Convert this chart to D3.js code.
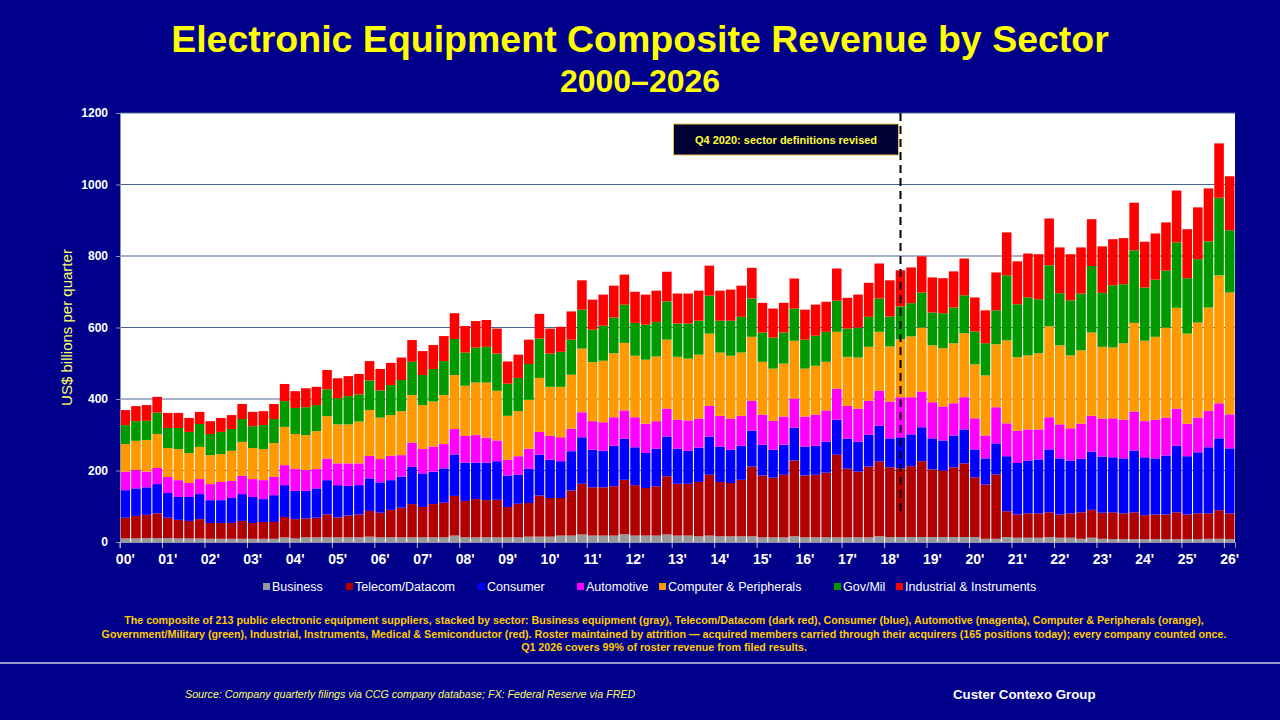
<!DOCTYPE html>
<html>
<head>
<meta charset="utf-8">
<script src="https://cdn.jsdelivr.net/npm/d3@7"></script>
<style>
	body { margin: 0; background: #00008a; }
	svg { display: block; font-family: Arial, "Liberation Sans", sans-serif; }
</style>
</head>
<body>
<svg id="chart" width="1280" height="720"></svg>
<script>
(function() {
	"use strict";

	// year tick labels, one per year (2026 has only Q1)
	var years = [2000, 2001, 2002, 2003, 2004, 2005, 2006, 2007, 2008, 2009, 2010, 2011, 2012, 2013,
		2014, 2015, 2016, 2017, 2018, 2019, 2020, 2021, 2022, 2023, 2024, 2025, 2026];
	var yearLabels = ["00'", "01'", "02'", "03'", "04'", "05'", "06'", "07'", "08'", "09'", "10'", "11'", "12'", "13'",
		"14'", "15'", "16'", "17'", "18'", "19'", "20'", "21'", "22'", "23'", "24'", "25'", "26'"];
	var quarterNames = ["Q1", "Q2", "Q3", "Q4"];

	// US$ billions per quarter, 2000 Q1 .. 2026 Q1
	var business = [10,10,11,11, 11,10,10,10, 9,9,9,9, 9,9,9,13, 10,13,13,13, 13,13,13,15, 13,13,13,13,
		13,13,13,18, 13,13,13,13, 13,13,15,15, 15,18,18,21, 18,18,18,22, 18,18,18,21, 18,18,16,18,
		16,16,16,16, 13,13,13,16, 13,13,13,13, 13,13,13,16, 14,14,14,14, 14,14,14,14, 14,9,9,14,
		12,12,12,14, 12,12,9,12, 9,8,8,8, 8,8,8,8, 8,8,9,9, 8];
	var telecom = [58,63,65,69, 57,52,49,54, 44,44,44,50, 44,47,47,57, 54,53,55,64, 56,61,64,72, 69,77,83,93,
		85,93,97,111, 102,107,104,105, 85,94,94,115, 108,105,126,142, 135,135,138,152, 141,133,138,163, 145,145,152,170,
		152,149,158,195, 173,167,175,212, 173,175,181,231, 192,184,198,209, 195,192,198,212, 189,186,195,206, 167,152,180,72,
		65,68,68,69, 65,68,74,78, 73,75,72,75, 67,69,69,75, 69,72,71,80, 72];
	var consumer = [77,77,77,82, 69,64,67,70, 64,64,70,75, 73,64,75,89, 79,77,82,96, 90,83,82,91, 85,83,87,104,
		94,91,96,116, 107,102,105,108, 88,81,96,114, 107,103,110,130, 105,102,113,115, 106,98,105,111, 98,92,96,107,
		99,93,95,100, 86,78,84,92, 81,81,87,98, 84,84,89,100, 81,87,89,95, 87,84,89,95, 78,73,87,154,
		144,148,151,176, 157,148,150,163, 157,154,154,173, 162,157,165,186, 163,171,185,201, 182];
	var automotive = [52,51,44,45, 45,47,39,42, 45,51,48,51, 50,53,51,56, 61,58,54,60, 61,63,61,63, 65,68,60,68,
		68,70,68,71, 75,77,70,58, 44,52,56,64, 67,67,63,70, 80,80,80,79, 84,82,77,78, 81,85,81,86,
		86,87,84,84, 84,81,79,81, 84,87,87,87, 92,92,95,98, 103,112,104,100, 101,95,90,90, 87,64,101,92,
		90,87,84,90, 95,90,98,100, 106,109,108,109, 101,108,106,104, 91,97,102,98, 95];
	var computer = [77,82,88,95, 81,87,84,90, 81,78,84,95, 87,87,95,107, 98,98,106,119, 109,109,117,128, 116,114,123,133,
		123,126,137,151, 140,147,154,139, 123,126,137,151, 137,141,151,178, 165,172,179,189, 172,179,181,193, 176,173,179,202,
		177,176,177,179, 148,146,148,162, 134,137,136,159, 137,143,151,165, 154,162,170,179, 159,163,168,179, 151,168,176,232,
		206,207,213,254, 221,204,205,233, 201,198,214,248, 225,232,252,282, 252,266,289,358, 341];
	var govMil = [53,55,54,60, 56,59,59,64, 59,62,61,64, 61,67,67,72, 73,78,73,75, 73,79,76,83, 76,84,87,93,
		84,91,95,101, 93,98,100,104, 90,93,100,110, 93,98,98,109, 91,98,100,107, 92,98,96,107, 93,98,95,106,
		89,98,100,107, 82,87,87,90, 81,84,84,87, 79,84,84,93, 84,92,93,98, 92,98,100,106, 92,90,95,182,
		148,162,151,171, 146,154,159,186, 151,174,165,203, 149,160,159,183, 155,177,185,217, 174];
	var industrial = [42,42,44,44, 42,42,39,34, 36,39,39,42, 40,39,42,48, 47,53,51,54, 56,56,57,54, 60,62,63,61,
		67,67,70,72, 74,74,75,70, 62,65,68,69, 70,70,79,82, 84,87,89,84, 87,84,88,83, 84,84,84,84,
		84,87,87,86, 83,81,83,84, 84,87,84,90, 86,92,95,98, 101,101,100,101, 98,98,101,103, 95,92,106,120,
		120,123,126,131, 128,129,129,131, 130,129,129,133, 128,129,135,145, 137,145,148,152, 151];

	var sectors = ["Business", "Telecom/Datacom", "Consumer", "Automotive", "Computer & Peripherals", "Gov/Mil", "Industrial & Instruments"];
	var sectorValues = [business, telecom, consumer, automotive, computer, govMil, industrial];
	var sectorColors = ["#999999", "#b00000", "#0000ff", "#ff00ff", "#ff9900", "#009900", "#ff0000"];

	var markerQuarter = "2018 Q2";
	var markerRange = [75, 1200];
	var markerNote = "Q4 2020: sector definitions revised";

	var quarters = [];
	years.forEach(function (yr) {
		quarterNames.forEach(function (q) { quarters.push(yr + " " + q); });
	});
	quarters = quarters.slice(0, business.length);

	var rows = quarters.map(function (q, i) {
		var row = { quarter: q };
		sectors.forEach(function (s, k) { row[s] = sectorValues[k][i]; });
		return row;
	});

	var svg = d3.select("#chart");
	var plot = { left: 120, right: 1235, top: 113, bottom: 542 };

	var x = d3.scaleBand()
		.domain(quarters)
		.range([plot.left, plot.right])
		.paddingInner(0.1)
		.paddingOuter(0.05);

	var y = d3.scaleLinear()
		.domain([0, 1200])
		.range([plot.bottom, plot.top]);

	var color = d3.scaleOrdinal().domain(sectors).range(sectorColors);

	// titles
	svg.append("text")
		.attr("x", 640).attr("y", 52)
		.attr("text-anchor", "middle")
		.attr("fill", "#ffff00")
		.attr("font-size", 37.5).attr("font-weight", "bold")
		.text("Electronic Equipment Composite Revenue by Sector");
	svg.append("text")
		.attr("x", 640).attr("y", 92)
		.attr("text-anchor", "middle")
		.attr("fill", "#ffff00")
		.attr("font-size", 32).attr("font-weight", "bold")
		.text("2000\u20132026");

	// plot area
	svg.append("rect")
		.attr("x", plot.left).attr("y", plot.top)
		.attr("width", plot.right - plot.left).attr("height", plot.bottom - plot.top)
		.attr("fill", "#ffffff");

	svg.append("g")
		.selectAll("line")
		.data(d3.range(200, 1201, 200))
		.join("line")
		.attr("x1", plot.left).attr("x2", plot.right)
		.attr("y1", function (d) { return y(d); })
		.attr("y2", function (d) { return y(d); })
		.attr("stroke", "#4a6592").attr("stroke-width", 1);

	// stacked bars
	var series = d3.stack().keys(sectors)(rows);

	svg.append("g")
		.selectAll("g")
		.data(series)
		.join("g")
		.attr("fill", function (s) { return color(s.key); })
		.selectAll("rect")
		.data(function (s) { return s; })
		.join("rect")
		.attr("x", function (d) { return x(d.data.quarter); })
		.attr("width", x.bandwidth())
		.attr("y", function (d) { return y(d[1]); })
		.attr("height", function (d) { return y(d[0]) - y(d[1]); });

	// axes
	var yAxis = svg.append("g")
		.attr("transform", "translate(" + plot.left + ",0)")
		.call(d3.axisLeft(y)
			.tickValues(d3.range(0, 1201, 200))
			.tickFormat(d3.format("d"))
			.tickSize(4)
			.tickPadding(8));
	yAxis.select(".domain").attr("stroke", "#8a94b0");
	yAxis.selectAll(".tick line").attr("stroke", "#8a94b0");
	yAxis.selectAll(".tick text")
		.attr("fill", "#ffffff").attr("font-size", 12).attr("font-weight", "bold")
		.attr("font-family", "Arial, 'Liberation Sans', sans-serif");

	var firstQuarters = quarters.filter(function (q) { return /Q1$/.test(q); });
	var step = x.step();
	var xAxis = svg.append("g")
		.attr("transform", "translate(0," + plot.bottom + ")")
		.call(d3.axisBottom(x)
			.tickValues(firstQuarters)
			.tickSize(6)
			.tickPadding(6)
			.tickFormat(function (q) { return yearLabels[years.indexOf(+q.slice(0, 4))]; }));
	xAxis.select(".domain").attr("stroke", "#8a94b0");
	xAxis.selectAll(".tick line")
		.attr("stroke", "#b8bccc")
		.attr("x1", -step / 2).attr("x2", -step / 2);
	xAxis.selectAll(".tick text")
		.attr("fill", "#ffffff").attr("font-size", 14).attr("font-weight", "bold")
		.attr("font-family", "Arial, 'Liberation Sans', sans-serif");

	svg.append("text")
		.attr("transform", "translate(72," + (plot.top + plot.bottom) / 2 + ") rotate(-90)")
		.attr("text-anchor", "middle")
		.attr("fill", "#ffff66")
		.attr("font-size", 15)
		.text("US$ billions per quarter");

	// sector definition marker
	var markerX = x(markerQuarter) + x.bandwidth() / 2;
	svg.append("line")
		.attr("x1", markerX).attr("x2", markerX)
		.attr("y1", y(markerRange[1])).attr("y2", y(markerRange[0]))
		.attr("stroke", "#000000").attr("stroke-width", 2)
		.attr("stroke-dasharray", "8,5");

	var note = svg.append("g").attr("transform", "translate(" + (markerX - 227) + ",124)");
	note.append("rect")
		.attr("width", 225).attr("height", 31)
		.attr("fill", "#000033")
		.attr("stroke", "#e8c34a").attr("stroke-width", 1);
	note.append("text")
		.attr("x", 112.5).attr("y", 19.5)
		.attr("text-anchor", "middle")
		.attr("fill", "#ffff33")
		.attr("font-size", 11).attr("font-weight", "bold")
		.text(markerNote);

	// legend
	var legendX = [272, 355, 487, 586, 668, 843, 905];
	var legend = svg.append("g")
		.selectAll("g")
		.data(sectors)
		.join("g")
		.attr("transform", function (d, i) { return "translate(" + legendX[i] + ",591)"; });
	legend.append("rect")
		.attr("x", -9).attr("y", -8)
		.attr("width", 7).attr("height", 7)
		.attr("fill", function (d) { return color(d); });
	legend.append("text")
		.attr("fill", "#ffffff")
		.attr("font-size", 12.5)
		.text(function (d) { return d; });

	// footnote
	var footnote = [
		"The composite of 213 public electronic equipment suppliers, stacked by sector: Business equipment (gray), Telecom/Datacom (dark red), Consumer (blue), Automotive (magenta), Computer & Peripherals (orange),",
		"Government/Military (green), Industrial, Instruments, Medical & Semiconductor (red). Roster maintained by attrition \u2014 acquired members carried through their acquirers (165 positions today); every company counted once.",
		"Q1 2026 covers 99% of roster revenue from filed results."
	];
	svg.append("g")
		.selectAll("text")
		.data(footnote)
		.join("text")
		.attr("x", 664)
		.attr("y", function (d, i) { return 624 + i * 13.5; })
		.attr("text-anchor", "middle")
		.attr("fill", "#ffcc00")
		.attr("font-size", 10.7)
		.attr("font-weight", "bold")
		.text(function (d) { return d; });

	svg.append("line")
		.attr("x1", 0).attr("x2", 1280)
		.attr("y1", 663).attr("y2", 663)
		.attr("stroke", "#c8cce0").attr("stroke-width", 1.5);

	svg.append("text")
		.attr("x", 185).attr("y", 698)
		.attr("fill", "#ffff66")
		.attr("font-size", 10.7)
		.attr("font-style", "italic")
		.text("Source: Company quarterly filings via CCG company database; FX: Federal Reserve via FRED");

	svg.append("text")
		.attr("x", 953).attr("y", 699)
		.attr("fill", "#ffffff")
		.attr("font-size", 13.3)
		.attr("font-weight", "bold")
		.text("Custer Contexo Group");
}());
</script>
</body>
</html>
